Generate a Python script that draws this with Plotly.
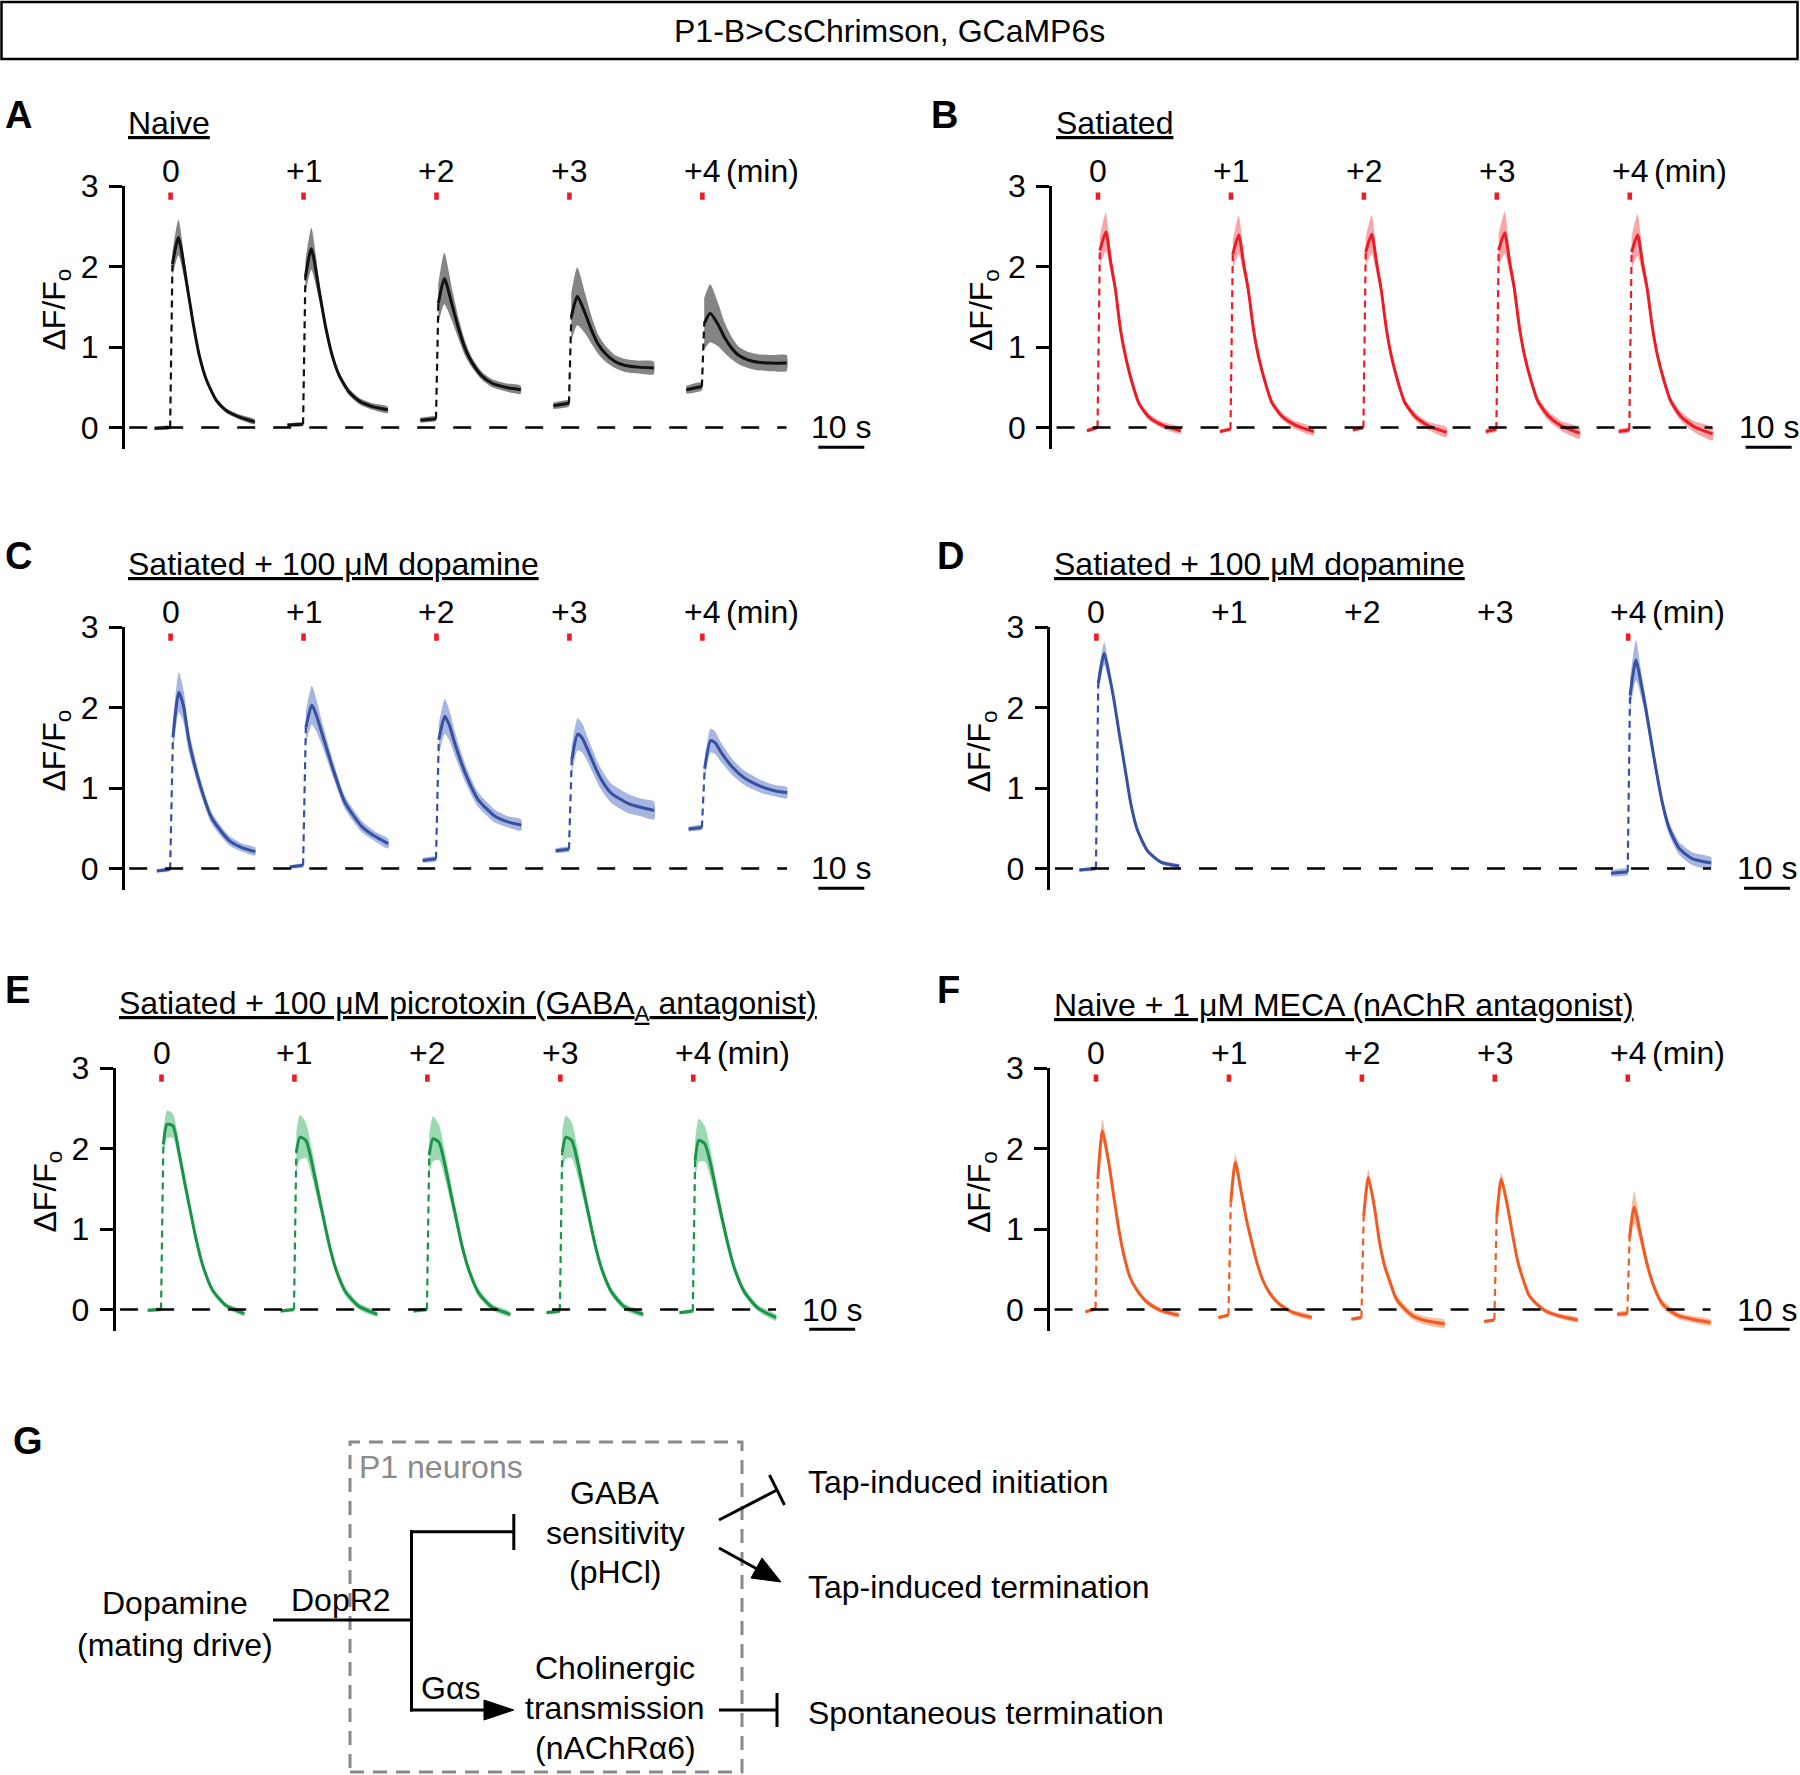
import plotly.graph_objects as go

W, H = 1800, 1775
FONT = "Liberation Sans, Arial, Helvetica, sans-serif"
FS = 32

# ---------------- data ----------------
STIM_LABELS = ["0", "+1", "+2", "+3", "+4"]
STIM_SPACING_S = 28.9
X_RANGE = [-10, 152]
Y_RANGE = [-0.27, 3.0]
Y_TICKS = [0, 1, 2, 3]
SCALE_BAR_S = 10

# A: Naive (black)
A_T = [-3.5, -0.1, 0.4, 1.7, 3.4, 4.8, 6.3, 7.8, 9.9, 12.1, 15.0, 18.3]
A_MEAN = [
    [-0.01, 0.00, 2.03, 2.36, 1.83, 1.33, 0.88, 0.59, 0.34, 0.21, 0.13, 0.07],
    [0.03, 0.04, 1.87, 2.22, 1.70, 1.25, 0.88, 0.64, 0.44, 0.33, 0.26, 0.22],
    [0.09, 0.11, 1.54, 1.85, 1.52, 1.23, 0.97, 0.80, 0.64, 0.55, 0.50, 0.47],
    [0.27, 0.30, 1.37, 1.63, 1.42, 1.21, 1.03, 0.92, 0.82, 0.77, 0.75, 0.74],
    [0.47, 0.51, 1.29, 1.42, 1.28, 1.12, 0.99, 0.90, 0.84, 0.81, 0.80, 0.80],
]
A_SEM = [
    [0.02, 0.02, 0.15, 0.22, 0.10, 0.06, 0.04, 0.03, 0.03, 0.03, 0.03, 0.03],
    [0.02, 0.02, 0.20, 0.26, 0.12, 0.07, 0.05, 0.04, 0.04, 0.04, 0.04, 0.04],
    [0.03, 0.03, 0.25, 0.32, 0.20, 0.13, 0.09, 0.06, 0.05, 0.05, 0.05, 0.05],
    [0.04, 0.04, 0.30, 0.36, 0.25, 0.17, 0.12, 0.10, 0.08, 0.08, 0.08, 0.08],
    [0.05, 0.05, 0.32, 0.36, 0.27, 0.19, 0.14, 0.11, 0.10, 0.10, 0.10, 0.10],
]

# B: Satiated (red)
B_T = [-2.4, -0.1, 0.4, 1.7, 2.8, 3.8, 4.9, 6.0, 7.5, 8.9, 11.1, 14.0, 18.0]
B_MEAN = [
    [-0.04, 0.00, 2.20, 2.43, 2.04, 1.71, 1.21, 0.88, 0.54, 0.30, 0.13, 0.03, -0.04],
    [-0.05, -0.02, 2.15, 2.39, 2.02, 1.70, 1.22, 0.88, 0.55, 0.31, 0.14, 0.03, -0.05],
    [-0.03, 0.00, 2.18, 2.40, 2.03, 1.70, 1.22, 0.88, 0.55, 0.31, 0.14, 0.02, -0.06],
    [-0.05, -0.02, 2.20, 2.42, 2.05, 1.73, 1.25, 0.90, 0.57, 0.33, 0.15, 0.02, -0.07],
    [-0.05, -0.03, 2.18, 2.39, 2.03, 1.72, 1.25, 0.90, 0.57, 0.33, 0.14, 0.01, -0.08],
]
B_SEM = [
    [0.02, 0.02, 0.18, 0.24, 0.12, 0.07, 0.05, 0.04, 0.04, 0.04, 0.04, 0.04, 0.04],
    [0.02, 0.02, 0.18, 0.24, 0.12, 0.07, 0.05, 0.04, 0.04, 0.04, 0.04, 0.05, 0.05],
    [0.02, 0.02, 0.18, 0.24, 0.12, 0.07, 0.05, 0.04, 0.04, 0.04, 0.05, 0.05, 0.06],
    [0.03, 0.03, 0.20, 0.26, 0.13, 0.08, 0.06, 0.05, 0.05, 0.05, 0.06, 0.06, 0.07],
    [0.03, 0.03, 0.20, 0.26, 0.13, 0.08, 0.06, 0.05, 0.05, 0.05, 0.06, 0.07, 0.08],
]

# C: Satiated + dopamine (blue)
C_T = [-3.0, -0.1, 0.5, 1.8, 2.8, 4.0, 6.5, 9.0, 12.7, 15.5, 18.4]
C_MEAN = [
    [-0.03, -0.01, 1.63, 2.19, 2.02, 1.58, 1.02, 0.62, 0.35, 0.26, 0.21],
    [0.02, 0.04, 1.75, 2.03, 1.90, 1.68, 1.22, 0.82, 0.52, 0.40, 0.31],
    [0.10, 0.12, 1.60, 1.89, 1.78, 1.55, 1.15, 0.86, 0.65, 0.58, 0.54],
    [0.22, 0.24, 1.35, 1.67, 1.62, 1.47, 1.15, 0.94, 0.81, 0.76, 0.72],
    [0.49, 0.51, 1.24, 1.59, 1.56, 1.45, 1.26, 1.13, 1.02, 0.97, 0.94],
]
C_SEM = [
    [0.02, 0.02, 0.20, 0.25, 0.20, 0.14, 0.09, 0.07, 0.06, 0.05, 0.05],
    [0.02, 0.02, 0.20, 0.24, 0.20, 0.15, 0.10, 0.08, 0.07, 0.06, 0.06],
    [0.03, 0.03, 0.20, 0.22, 0.19, 0.15, 0.11, 0.09, 0.08, 0.07, 0.07],
    [0.03, 0.03, 0.18, 0.20, 0.18, 0.15, 0.13, 0.12, 0.12, 0.11, 0.11],
    [0.03, 0.03, 0.12, 0.15, 0.14, 0.12, 0.10, 0.09, 0.08, 0.07, 0.07],
]

# D: Satiated + dopamine, stimulated at 0 and +4 only (blue)
D_T = [-3.7, -0.1, 0.4, 1.7, 2.8, 3.8, 4.9, 6.0, 7.5, 8.9, 11.1, 14.0, 18.0]
D_TRIALS = [0, 4]
D_MEAN = [
    [-0.02, 0.00, 2.30, 2.67, 2.40, 2.10, 1.70, 1.32, 0.80, 0.48, 0.22, 0.08, 0.03],
    [-0.06, -0.04, 2.15, 2.59, 2.30, 2.00, 1.62, 1.25, 0.80, 0.50, 0.25, 0.12, 0.07],
]
D_SEM = [
    [0.02, 0.02, 0.12, 0.14, 0.10, 0.07, 0.05, 0.04, 0.03, 0.03, 0.02, 0.02, 0.02],
    [0.04, 0.04, 0.20, 0.25, 0.16, 0.12, 0.10, 0.08, 0.08, 0.08, 0.08, 0.08, 0.07],
]

# E: Satiated + picrotoxin (green)
E_T = [-3.0, -0.1, 0.4, 1.2, 2.5, 3.8, 4.9, 6.0, 7.5, 8.9, 11.1, 14.0, 18.0]
E_MEAN = [
    [-0.01, 0.00, 2.05, 2.30, 2.28, 1.95, 1.62, 1.30, 0.88, 0.56, 0.24, 0.05, -0.05],
    [-0.02, 0.00, 1.95, 2.14, 2.10, 1.82, 1.52, 1.22, 0.82, 0.52, 0.22, 0.04, -0.06],
    [-0.02, 0.00, 1.92, 2.12, 2.08, 1.80, 1.50, 1.20, 0.80, 0.51, 0.21, 0.03, -0.06],
    [-0.04, -0.02, 1.95, 2.14, 2.10, 1.82, 1.52, 1.22, 0.82, 0.52, 0.22, 0.03, -0.06],
    [-0.04, -0.02, 1.85, 2.10, 2.06, 1.80, 1.50, 1.20, 0.82, 0.52, 0.22, 0.02, -0.10],
]
E_SEM = [
    [0.02, 0.02, 0.18, 0.17, 0.15, 0.12, 0.10, 0.08, 0.07, 0.05, 0.04, 0.03, 0.03],
    [0.02, 0.02, 0.25, 0.28, 0.22, 0.17, 0.13, 0.10, 0.08, 0.06, 0.05, 0.04, 0.03],
    [0.02, 0.02, 0.25, 0.28, 0.22, 0.17, 0.13, 0.10, 0.08, 0.06, 0.05, 0.04, 0.03],
    [0.02, 0.02, 0.25, 0.27, 0.22, 0.17, 0.13, 0.10, 0.08, 0.06, 0.05, 0.04, 0.03],
    [0.02, 0.02, 0.25, 0.27, 0.22, 0.17, 0.13, 0.10, 0.08, 0.06, 0.05, 0.04, 0.04],
]

# F: Naive + MECA (orange)
F_T = [-2.3, -0.1, 0.4, 1.4, 2.7, 3.8, 4.9, 6.0, 7.4, 8.9, 11.1, 14.0, 18.0]
F_MEAN = [
    [-0.03, 0.01, 1.62, 2.22, 1.85, 1.43, 1.02, 0.69, 0.40, 0.24, 0.09, -0.01, -0.07],
    [-0.10, -0.07, 1.33, 1.83, 1.45, 1.12, 0.85, 0.60, 0.36, 0.20, 0.06, -0.04, -0.10],
    [-0.12, -0.10, 1.16, 1.64, 1.28, 0.85, 0.55, 0.36, 0.14, 0.03, -0.08, -0.14, -0.18],
    [-0.15, -0.13, 1.14, 1.62, 1.30, 0.95, 0.62, 0.40, 0.18, 0.08, -0.02, -0.08, -0.13],
    [-0.06, -0.05, 0.90, 1.27, 0.95, 0.66, 0.42, 0.24, 0.08, 0.00, -0.08, -0.12, -0.16],
]
F_SEM = [
    [0.02, 0.02, 0.10, 0.14, 0.08, 0.05, 0.04, 0.03, 0.03, 0.03, 0.03, 0.03, 0.03],
    [0.02, 0.02, 0.08, 0.10, 0.06, 0.04, 0.03, 0.03, 0.03, 0.03, 0.03, 0.03, 0.03],
    [0.02, 0.02, 0.08, 0.10, 0.07, 0.06, 0.06, 0.06, 0.05, 0.05, 0.05, 0.05, 0.05],
    [0.02, 0.02, 0.06, 0.08, 0.05, 0.03, 0.03, 0.03, 0.03, 0.03, 0.03, 0.03, 0.03],
    [0.03, 0.03, 0.15, 0.20, 0.12, 0.08, 0.06, 0.05, 0.05, 0.05, 0.04, 0.04, 0.04],
]

HEADER = "P1-B>CsChrimson, GCaMP6s"
Y_TITLE = "ΔF/F<sub>o</sub>"

# ---------------- layout helpers (pixels) ----------------
PX_PER_S = 4.6
PX_PER_UNIT = 80.5
DOM_W = (X_RANGE[1] - X_RANGE[0]) * PX_PER_S
DOM_H = (Y_RANGE[1] - Y_RANGE[0]) * PX_PER_UNIT


def px(x):
    return x / W


def py(y):
    return 1 - y / H


panels = [
    dict(letter="A", title="Naive", T=A_T, mean=A_MEAN, sem=A_SEM, trials=[0, 1, 2, 3, 4],
         line="#111111", band="rgba(85,85,85,0.72)", axx=124.6, top=186, lx=3, ly=115),
    dict(letter="B", title="Satiated", T=B_T, mean=B_MEAN, sem=B_SEM, trials=[0, 1, 2, 3, 4],
         line="#ec1c24", band="rgba(240,95,100,0.55)", axx=1052, top=186, lx=929, ly=115),
    dict(letter="C", title="Satiated + 100 μM dopamine", T=C_T, mean=C_MEAN, sem=C_SEM,
         trials=[0, 1, 2, 3, 4], line="#3650a2", band="rgba(95,120,200,0.55)",
         axx=124.6, top=627, lx=3, ly=556),
    dict(letter="D", title="Satiated + 100 μM dopamine", T=D_T, mean=D_MEAN, sem=D_SEM,
         trials=D_TRIALS, line="#3650a2", band="rgba(95,120,200,0.55)",
         axx=1050.4, top=627, lx=935, ly=556),
    dict(letter="E", title="Satiated + 100 μM picrotoxin (GABA<sub>A</sub> antagonist)",
         T=E_T, mean=E_MEAN, sem=E_SEM, trials=[0, 1, 2, 3, 4], line="#1a9447",
         band="rgba(75,185,115,0.55)", axx=115.5, top=1068, lx=3, ly=990),
    dict(letter="F", title="Naive + 1 μM MECA (nAChR antagonist)", T=F_T, mean=F_MEAN,
         sem=F_SEM, trials=[0, 1, 2, 3, 4], line="#f15a22", band="rgba(245,135,85,0.55)",
         axx=1050, top=1068, lx=935, ly=990),
]

fig = go.Figure()
layout = dict(width=W, height=H, autosize=False, margin=dict(l=0, r=0, t=0, b=0, pad=0),
              paper_bgcolor="white", plot_bgcolor="white", showlegend=False,
              font=dict(family=FONT, size=FS, color="black"))
annotations = []
shapes = []


def ann(x, y, text, size=FS, xanchor="center", color="black", bold=False, angle=0):
    annotations.append(dict(x=px(x), y=py(y), xref="paper", yref="paper", text=text,
                            showarrow=False, xanchor=xanchor, yanchor="middle",
                            textangle=angle,
                            font=dict(size=size, color=color, family=FONT,
                                      weight="bold" if bold else "normal")))


for k, p in enumerate(panels):
    n = "" if k == 0 else str(k + 1)
    xa, ya = "x" + n, "y" + n
    x0, top = p["axx"], p["top"]
    layout["xaxis" + n] = dict(domain=[px(x0), px(x0 + DOM_W)], range=X_RANGE,
                               visible=False, anchor=ya, fixedrange=True, automargin=False)
    layout["yaxis" + n] = dict(domain=[py(top + DOM_H), py(top)], range=Y_RANGE,
                               anchor=xa, tickvals=Y_TICKS, ticktext=[str(v) for v in Y_TICKS],
                               ticks="outside", ticklen=13, tickwidth=2.5, tickcolor="black",
                               showline=True, linewidth=2.5, linecolor="black",
                               showgrid=False, zeroline=False, fixedrange=True,
                               automargin=False, ticklabelstandoff=4,
                               tickfont=dict(size=FS, family=FONT, color="black"))
    T = p["T"]
    for j, trial in enumerate(p["trials"]):
        off = trial * STIM_SPACING_S
        m = p["mean"][j]
        s = p["sem"][j]
        xs = [off + t for t in T]
        up = [a + b for a, b in zip(m, s)]
        lo = [a - b for a, b in zip(m, s)]
        # SEM bands: baseline segment and response segment
        for seg in (slice(0, 2), slice(2, None)):
            bx = xs[seg] + xs[seg][::-1]
            by = up[seg] + lo[seg][::-1]
            fig.add_trace(go.Scatter(x=bx, y=by, fill="toself", fillcolor=p["band"],
                                     line=dict(width=0, shape="spline", smoothing=0.6),
                                     mode="lines", hoverinfo="skip", xaxis=xa, yaxis=ya))
        # mean (solid parts)
        fig.add_trace(go.Scatter(x=xs[0:2] + [None] + xs[2:], y=m[0:2] + [None] + m[2:],
                                 mode="lines", connectgaps=False,
                                 line=dict(color=p["line"], width=3, shape="spline", smoothing=0.6),
                                 hoverinfo="skip", xaxis=xa, yaxis=ya))
        # dashed stimulation gap
        fig.add_trace(go.Scatter(x=xs[1:3], y=m[1:3], mode="lines",
                                 line=dict(color=p["line"], width=2.2, dash="7px,5px"),
                                 hoverinfo="skip", xaxis=xa, yaxis=ya))
        # red stimulus mark
        shapes.append(dict(type="rect", xref=xa, yref=ya, x0=off - 0.5, x1=off + 0.5,
                           y0=2.83, y1=2.92, fillcolor="#ec1c24", line=dict(width=0)))
    # zero baseline (dashed, drawn on top)
    fig.add_trace(go.Scatter(x=[-9, 4 * STIM_SPACING_S + T[-1]], y=[0, 0], mode="lines",
                             line=dict(color="black", width=2.7, dash="18px,18px"),
                             hoverinfo="skip", xaxis=xa, yaxis=ya))
    # scale bar + label
    bar_x1 = X_RANGE[1] - 1.2
    shapes.append(dict(type="line", xref=xa, yref=ya, x0=bar_x1 - SCALE_BAR_S, x1=bar_x1,
                       y0=-0.245, y1=-0.245, line=dict(color="black", width=3)))
    annotations.append(dict(x=bar_x1 - SCALE_BAR_S / 2, y=0.0, xref=xa, yref=ya,
                            text="10 s", showarrow=False, xanchor="center", yanchor="middle",
                            font=dict(size=FS, family=FONT, color="black")))
    # stimulus time labels
    stim0_px = x0 + (0 - X_RANGE[0]) * PX_PER_S
    for i, lab in enumerate(STIM_LABELS):
        cx = stim0_px + i * STIM_SPACING_S * PX_PER_S
        ann(cx, top - 15, lab)
    ann(stim0_px + 4 * STIM_SPACING_S * PX_PER_S + 22, top - 15, "(min)", xanchor="left")
    # titles, letters, y titles
    ann(x0 + 1.5, top - 63, "<u>" + p["title"] + "</u>", xanchor="left")
    ann(p["lx"], p["ly"], p["letter"], size=38, xanchor="left", bold=True)
    ann(x0 - 69, top + 124, Y_TITLE, angle=-90)

# ---------------- header ----------------
shapes.append(dict(type="rect", xref="paper", yref="paper", x0=px(1.5), x1=px(1797.5),
                   y0=py(59), y1=py(2), line=dict(color="black", width=2.5)))
ann(889, 31, HEADER)

# ---------------- panel G diagram ----------------
ann(11, 1441, "G", size=38, xanchor="left", bold=True)
GRAY = "#8a8a8a"
shapes.append(dict(type="rect", xref="paper", yref="paper", x0=px(350), x1=px(742),
                   y0=py(1772), y1=py(1442), line=dict(color=GRAY, width=3, dash="14px,9px")))
ann(357, 1467, "P1 neurons", color=GRAY, xanchor="left")


def seg(xa_, ya_, xb, yb, w=3):
    shapes.append(dict(type="line", xref="paper", yref="paper", x0=px(xa_), y0=py(ya_),
                       x1=px(xb), y1=py(yb), line=dict(color="black", width=w)))


def tri(pts):
    path = "M " + " L ".join(f"{px(a)},{py(b)}" for a, b in pts) + " Z"
    shapes.append(dict(type="path", xref="paper", yref="paper", path=path,
                       fillcolor="black", line=dict(color="black", width=1)))


seg(273, 1620, 411.5, 1620)
seg(411.5, 1530.2, 411.5, 1711.5)
seg(410, 1531.7, 513.8, 1531.7)
seg(513.8, 1514, 513.8, 1550)
seg(410, 1710, 488, 1710)
tri([(513.8, 1710), (484, 1700), (484, 1720)])
seg(719, 1710, 777, 1710)
seg(777, 1693, 777, 1727)
seg(719, 1520, 777, 1490)
seg(769.5, 1475, 784.5, 1505)
seg(719, 1548, 758, 1569.5)
tri([(781, 1582), (751, 1578), (762, 1558)])

ann(175, 1603, "Dopamine")
ann(175, 1645, "(mating drive)")
ann(341, 1600, "DopR2")
ann(615, 1493, "GABA")
ann(615, 1533, "sensitivity")
ann(615, 1572, "(pHCl)")
ann(450, 1688, "Gαs")
ann(615, 1668, "Cholinergic")
ann(615, 1708, "transmission")
ann(615, 1748, "(nAChRα6)")
ann(806, 1482, "Tap-induced initiation", xanchor="left")
ann(806, 1587, "Tap-induced termination", xanchor="left")
ann(806, 1713, "Spontaneous termination", xanchor="left")

layout["annotations"] = annotations
layout["shapes"] = shapes
fig.update_layout(**layout)
fig.write_html("out.html",
               config={"displayModeBar": False, "responsive": False},
               post_script="var gd=document.getElementById('{plot_id}');"
                           "gd.style.position='absolute';gd.style.top='0px';gd.style.left='0px';"
                           "document.body.style.margin='0px';"
                           "document.body.style.padding='0px';"
                           "document.body.style.overflow='hidden';")
